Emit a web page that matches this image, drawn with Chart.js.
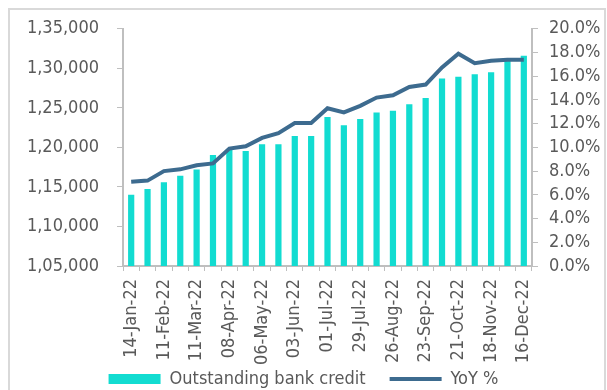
<!DOCTYPE html>
<html>
<head>
<meta charset="utf-8">
<script src="https://cdn.jsdelivr.net/npm/chart.js@4/dist/chart.umd.min.js"></script>
<style>
  html, body { margin: 0; padding: 0; background: #fff; overflow: hidden; }
  #frame {
    position: absolute; left: 8px; top: 8px; width: 598px; height: 400px;
    border: 2px solid #d9d9d9; box-sizing: border-box;
  }
  #wrap { position: absolute; left: 0; top: 0; width: 607px; height: 390px; }
</style>
</head>
<body>
<div id="frame"></div>
<div id="wrap"><canvas id="creditChart" width="607" height="390"></canvas></div>
<script>
// fortnightly reporting dates, 2022
const dates = [
  "14-Jan-22", "28-Jan-22", "11-Feb-22", "25-Feb-22", "11-Mar-22", "25-Mar-22",
  "08-Apr-22", "22-Apr-22", "06-May-22", "20-May-22", "03-Jun-22", "17-Jun-22",
  "01-Jul-22", "15-Jul-22", "29-Jul-22", "12-Aug-22", "26-Aug-22", "09-Sep-22",
  "23-Sep-22", "07-Oct-22", "21-Oct-22", "04-Nov-22", "18-Nov-22", "02-Dec-22",
  "16-Dec-22"
];

// outstanding bank credit (Rs crore)
const bankCredit = [
  114000, 114750, 115600, 116400, 117200, 119050,
  119700, 119550, 120400, 120400, 121450, 121450,
  123850, 122800, 123600, 124400, 124650, 125450,
  126250, 128700, 128950, 129250, 129500, 131100,
  131600
];

// year-on-year growth, %
const yoyGrowth = [
  7.1, 7.2, 8.0, 8.15, 8.5, 8.65,
  9.9, 10.1, 10.8, 11.2, 12.05, 12.05,
  13.3, 12.95, 13.5, 14.2, 14.4, 15.1,
  15.3, 16.75, 17.9, 17.1, 17.3, 17.4,
  17.4
];

const textColor = "#595959";
const axisColor = "#bfbfbf";
const font = { family: "'DejaVu Sans Condensed', 'DejaVu Sans', sans-serif", size: 18 };

// wide item spacing in the legend also adds vertical padding; pull the row back up
const legendNudge = {
  id: "legendNudge",
  afterLayout(chart) {
    chart.legend.top -= 20;
    chart.legend.bottom -= 20;
  },
};

const ctx = document.getElementById("creditChart");
new Chart(ctx, {
  plugins: [legendNudge],
  data: {
    labels: dates,
    datasets: [
      {
        type: "line",
        label: "YoY %",
        data: yoyGrowth,
        yAxisID: "yRight",
        borderColor: "#3d6b8f",
        backgroundColor: "#3d6b8f",
        borderWidth: 4,
        pointRadius: 0,
        tension: 0,
        order: 1,
      },
      {
        type: "bar",
        label: "Outstanding bank credit",
        data: bankCredit,
        yAxisID: "yLeft",
        backgroundColor: "#12dcd1",
        categoryPercentage: 1,
        barPercentage: 0.38,
        order: 2,
      },
    ],
  },
  options: {
    responsive: false,
    animation: false,
    layout: { padding: { top: 27, left: 0, right: 0, bottom: -28 } },
    scales: {
      x: {
        offset: true,
        grid: { display: true, offset: true, drawOnChartArea: false, tickLength: 5, color: axisColor },
        border: { display: true, color: axisColor, width: 2 },
        ticks: {
          autoSkip: false,
          maxRotation: 90,
          minRotation: 90,
          padding: 8,
          color: textColor,
          font: font,
          callback: function (value, index) {
            return index % 2 === 0 ? this.getLabelForValue(value) : "";
          },
        },
        afterFit: (scale) => { scale.height = 100; },
      },
      yLeft: {
        position: "left",
        min: 105000,
        max: 135000,
        grid: { display: true, drawOnChartArea: false, tickLength: 6, color: axisColor },
        border: { display: true, color: axisColor, width: 2 },
        ticks: {
          autoSkip: false,
          stepSize: 5000,
          padding: 18,
          color: textColor,
          font: font,
          callback: (v) => v.toLocaleString("en-IN"),
        },
        afterFit: (scale) => { scale.width = 123; },
      },
      yRight: {
        position: "right",
        min: 0,
        max: 20,
        grid: { display: true, drawOnChartArea: false, tickLength: 6, color: axisColor },
        border: { display: true, color: axisColor, width: 2 },
        ticks: {
          autoSkip: false,
          stepSize: 2,
          padding: 11,
          color: textColor,
          font: font,
          callback: (v) => v.toFixed(1) + "%",
        },
        afterFit: (scale) => { scale.width = 75; },
      },
    },
    plugins: {
      tooltip: { enabled: false },
      legend: {
        display: true,
        position: "bottom",
        reverse: true,
        labels: {
          color: textColor,
          font: font,
          usePointStyle: true,
          pointStyleWidth: 52,
          boxHeight: 10,
          padding: 24,
          generateLabels: (chart) => {
            const items = Chart.defaults.plugins.legend.labels.generateLabels(chart);
            items.forEach((item) => {
              if (item.text === "YoY %") {
                item.pointStyle = "line";
                item.lineWidth = 4;
              } else {
                item.pointStyle = "rect";
                item.lineWidth = 0;
              }
            });
            return items;
          },
        },
      },
    },
  },
});
</script>
</body>
</html>
